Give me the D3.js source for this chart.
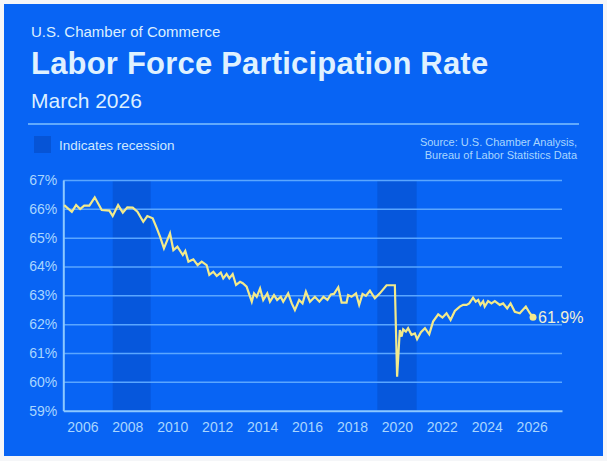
<!DOCTYPE html>
<html>
<head>
  <meta charset="utf-8">
  <script src="https://cdnjs.cloudflare.com/ajax/libs/d3/7.8.5/d3.min.js"></script>
  <title>Labor Force Participation Rate</title>
  <style>
    html, body { margin: 0; padding: 0; background: #f5f6f8; }
    svg { display: block; }
    text { font-family: "Liberation Sans", Arial, sans-serif; }
  </style>
</head>
<body>
<script>
  // decimal years and rates (%)
  const years = [
    2005.19, 2005.53, 2005.72, 2005.90, 2006.08, 2006.31, 2006.55, 2006.86, 2007.20, 2007.35,
    2007.59, 2007.80, 2008.00, 2008.24, 2008.45, 2008.71, 2008.89, 2009.13, 2009.31, 2009.46,
    2009.63, 2009.90, 2010.05, 2010.23, 2010.47, 2010.58, 2010.72, 2010.94, 2011.13, 2011.31,
    2011.53, 2011.65, 2011.83, 2011.98, 2012.16, 2012.27, 2012.42, 2012.54, 2012.69, 2012.84,
    2013.02, 2013.14, 2013.31, 2013.54, 2013.64, 2013.76, 2013.91, 2014.05, 2014.23, 2014.35,
    2014.53, 2014.67, 2014.83, 2014.94, 2015.16, 2015.32, 2015.46, 2015.65, 2015.80, 2015.95,
    2016.13, 2016.35, 2016.55, 2016.73, 2016.91, 2017.06, 2017.20, 2017.39, 2017.54, 2017.76,
    2017.83, 2017.98, 2018.18, 2018.32, 2018.47, 2018.62, 2018.80, 2019.02, 2019.24, 2019.54,
    2019.91, 2020.01, 2020.13, 2020.21, 2020.28, 2020.40, 2020.50, 2020.65, 2020.80, 2020.90,
    2021.07, 2021.25, 2021.44, 2021.61, 2021.84, 2022.03, 2022.21, 2022.39, 2022.58, 2022.80,
    2022.95, 2023.10, 2023.22, 2023.39, 2023.51, 2023.62, 2023.72, 2023.84, 2023.91, 2024.06,
    2024.21, 2024.36, 2024.58, 2024.73, 2024.91, 2025.06, 2025.25, 2025.47, 2025.74, 2025.92,
    2026.06
  ];
  const rates = [
    66.13, 65.90, 66.13, 65.99, 66.11, 66.11, 66.40, 65.96, 65.94, 65.75,
    66.13, 65.87, 66.05, 66.04, 65.90, 65.55, 65.75, 65.67, 65.33, 65.03,
    64.63, 65.15, 64.57, 64.69, 64.40, 64.54, 64.17, 64.25, 64.05, 64.17,
    64.05, 63.71, 63.82, 63.67, 63.79, 63.59, 63.74, 63.59, 63.74, 63.36,
    63.47, 63.42, 63.30, 62.78, 63.07, 62.95, 63.24, 62.84, 63.07, 62.78,
    63.01, 62.84, 62.95, 62.78, 63.07, 62.72, 62.49, 62.84, 62.72, 63.13,
    62.78, 62.95, 62.78, 62.95, 62.84, 63.03, 63.05, 63.28, 62.75, 62.75,
    63.01, 62.95, 63.07, 62.67, 63.05, 62.98, 63.16, 62.90, 63.07, 63.35,
    63.35, 60.18, 61.80, 61.57, 61.82, 61.74, 61.86, 61.63, 61.68, 61.48,
    61.72, 61.86, 61.65, 62.09, 62.34, 62.23, 62.38, 62.15, 62.46, 62.61,
    62.67, 62.67, 62.72, 62.92, 62.78, 62.84, 62.67, 62.80, 62.61, 62.80,
    62.72, 62.80, 62.67, 62.72, 62.55, 62.72, 62.43, 62.38, 62.61, 62.38,
    62.24
  ];
  const recessionStart = [2007.35, 2019.13];
  const recessionEnd = [2009.04, 2020.88];
  const yTicks = [59, 60, 61, 62, 63, 64, 65, 66, 67];
  const xTicks = [2006, 2008, 2010, 2012, 2014, 2016, 2018, 2020, 2022, 2024, 2026];
  const lastLabel = "61.9%";

  const W = 607, H = 461;
  const bg = "#0864f4";
  const pale = "#a9d6ff";

  const svg = d3.select("body").append("svg")
    .attr("width", W)
    .attr("height", H);

  svg.append("rect")
    .attr("x", 4).attr("y", 4)
    .attr("width", 599).attr("height", 452)
    .attr("fill", bg);

  // header
  svg.append("text").attr("x", 31).attr("y", 37)
    .attr("fill", "#dcefff").attr("font-size", 15)
    .text("U.S. Chamber of Commerce");
  svg.append("text").attr("x", 31).attr("y", 74)
    .attr("fill", "#dff1ff").attr("font-size", 31).attr("font-weight", "bold")
    .attr("letter-spacing", 0.2)
    .text("Labor Force Participation Rate");
  svg.append("text").attr("x", 31).attr("y", 108)
    .attr("fill", "#dcefff").attr("font-size", 21)
    .text("March 2026");
  svg.append("line")
    .attr("x1", 28).attr("x2", 579).attr("y1", 124).attr("y2", 124)
    .attr("stroke", "#7fc0ff").attr("stroke-width", 1.5);

  // legend + source
  svg.append("rect").attr("x", 34).attr("y", 136).attr("width", 17).attr("height", 17)
    .attr("fill", "#0654d6");
  svg.append("text").attr("x", 59).attr("y", 150)
    .attr("fill", "#cfe8ff").attr("font-size", 13.5)
    .text("Indicates recession");
  svg.append("text").attr("x", 577).attr("y", 146).attr("text-anchor", "end")
    .attr("fill", pale).attr("font-size", 11)
    .text("Source: U.S. Chamber Analysis,");
  svg.append("text").attr("x", 577).attr("y", 159).attr("text-anchor", "end")
    .attr("fill", pale).attr("font-size", 11)
    .text("Bureau of Labor Statistics Data");

  // scales
  const x = d3.scaleLinear().domain([2005.15, 2027.35]).range([63.3, 562]);
  const y = d3.scaleLinear().domain([59, 67]).range([410.7, 180]);

  // recession bands
  svg.selectAll(".band")
    .data(recessionStart)
    .enter().append("rect")
    .attr("class", "band")
    .attr("x", d => x(d))
    .attr("width", (d, i) => x(recessionEnd[i]) - x(d))
    .attr("y", y(67))
    .attr("height", y(59) - y(67))
    .attr("fill", "#0657dc");

  // gridlines
  svg.append("g")
    .attr("transform", "translate(" + x.range()[0] + ",0)")
    .call(d3.axisLeft(y).tickValues(yTicks.slice(1)).tickSize(-(x.range()[1] - x.range()[0])).tickFormat(""))
    .call(g => g.select(".domain").remove())
    .call(g => g.selectAll("line").attr("stroke", "#5aa6ff").attr("stroke-width", 1.5));

  // y axis
  svg.append("g")
    .attr("id", "y-axis")
    .attr("transform", "translate(" + x.range()[0] + ",0)")
    .call(d3.axisLeft(y).tickValues(yTicks).tickSize(0).tickPadding(6).tickFormat(d => d + "%"))
    .call(g => g.select(".domain").attr("stroke", "#8cc8ff").attr("stroke-width", 2))
    .call(g => g.selectAll("text").attr("fill", pale).attr("font-size", 14)
      .attr("font-family", "'Liberation Sans', Arial, sans-serif"));

  // x axis
  svg.append("g")
    .attr("id", "x-axis")
    .attr("transform", "translate(0," + y(59) + ")")
    .call(d3.axisBottom(x).tickValues(xTicks).tickSize(0).tickPadding(11).tickFormat(d3.format("d")))
    .call(g => g.select(".domain").attr("stroke", "#8cc8ff").attr("stroke-width", 2))
    .call(g => g.selectAll("text").attr("fill", pale).attr("font-size", 14)
      .attr("font-family", "'Liberation Sans', Arial, sans-serif"));

  // line
  const line = d3.line()
    .x((d, i) => x(years[i]))
    .y(d => y(d));

  svg.append("path")
    .datum(rates)
    .attr("d", line)
    .attr("fill", "none")
    .attr("stroke", "#f2ea8c")
    .attr("stroke-width", 2.2)
    .attr("stroke-linejoin", "miter");

  const n = rates.length - 1;
  svg.append("circle")
    .attr("cx", x(years[n])).attr("cy", y(rates[n])).attr("r", 3.5)
    .attr("fill", "#f2ea8c");
  svg.append("text")
    .attr("x", x(years[n]) + 5).attr("y", y(rates[n]) + 6)
    .attr("fill", "#f1f0d2").attr("font-size", 16)
    .text(lastLabel);
</script>
</body>
</html>
